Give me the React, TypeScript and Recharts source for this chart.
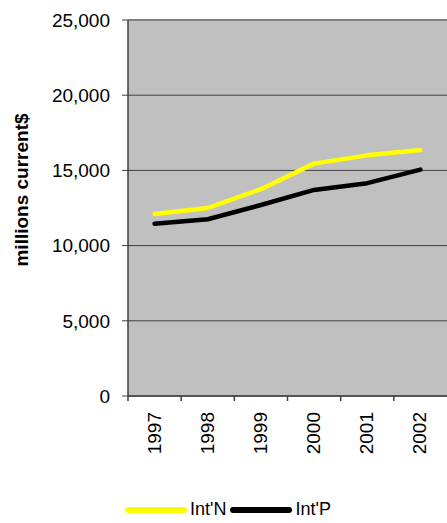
import React from "react";
import {
  LineChart,
  Line,
  XAxis,
  YAxis,
  CartesianGrid,
  Legend,
  ReferenceLine,
} from "recharts";

const years = ["1997", "1998", "1999", "2000", "2001", "2002"];
const intN = [12100, 12500, 13750, 15450, 16000, 16350];
const intP = [11450, 11750, 12700, 13700, 14150, 15050];
const yTicks = [0, 5000, 10000, 15000, 20000, 25000];

const FONT = "'Liberation Sans', Arial, sans-serif";
const AXIS = "#404040";

const data = years.map((year, i) => ({
  year,
  intN: intN[i],
  intP: intP[i],
}));

const series = [
  { key: "intN", name: "Int'N", color: "#ffff00" },
  { key: "intP", name: "Int'P", color: "#000000" },
];

// label rotated upward, tick mark on the left band boundary
const YearTick = (props: any) => {
  const { x, y, payload } = props;
  const half = payload.offset ?? 26.6;
  return (
    <g>
      <line x1={x - half} y1={y} x2={x - half} y2={y + 5} stroke={AXIS} strokeWidth={1.5} />
      <text
        x={x + 6}
        y={y + 16}
        transform={`rotate(-90, ${x + 6}, ${y + 16})`}
        textAnchor="end"
        fontSize={19}
        fontFamily={FONT}
        fill="#000"
      >
        {payload.value}
      </text>
    </g>
  );
};

const YTitle = (props: any) => {
  const { viewBox } = props;
  const cx = viewBox.x + 21;
  const cy = viewBox.y + viewBox.height / 2 - 18;
  return (
    <text
      x={cx}
      y={cy}
      transform={`rotate(-90, ${cx}, ${cy})`}
      textAnchor="middle"
      dominantBaseline="central"
      fontSize={19}
      fontWeight="bold"
      fontFamily={FONT}
      fill="#000"
    >
      millions current$
    </text>
  );
};

const LegendContent = () => (
  <div style={{ display: "flex", alignItems: "center", height: 30, paddingTop: 3, boxSizing: "border-box", fontFamily: FONT, fontSize: 18 }}>
    {series.map((s) => (
      <div key={s.key} style={{ display: "flex", alignItems: "center" }}>
        <svg width={62} height={12}>
          <line x1={3} y1={6} x2={59} y2={6} stroke={s.color} strokeWidth={6} strokeLinecap="round" />
        </svg>
        <span style={{ marginLeft: 3, marginRight: 4 }}>{s.name}</span>
      </div>
    ))}
  </div>
);

export default function App() {
  return (
    <div style={{ position: "absolute", left: 0, top: 0, background: "#fff" }}>
      <LineChart
        width={447}
        height={523}
        data={data}
        margin={{ top: 20, right: 0, left: 0, bottom: 0 }}
      >
        <CartesianGrid fill="#c0c0c0" vertical={false} stroke={AXIS} />
        <XAxis
          dataKey="year"
          scale="band"
          height={97}
          tickLine={false}
          tickSize={0}
          tickMargin={0}
          axisLine={{ stroke: AXIS, strokeWidth: 1.5 }}
          tick={<YearTick />}
          interval={0}
        />
        <YAxis
          width={128}
          domain={[0, 25000]}
          ticks={yTicks}
          interval={0}
          tickSize={6}
          tickMargin={12}
          tickLine={{ stroke: AXIS }}
          axisLine={{ stroke: AXIS, strokeWidth: 1.5 }}
          tickFormatter={(v: number) => v.toLocaleString("en-US")}
          tick={{ fontSize: 19, fontFamily: FONT, fill: "#000" }}
          label={<YTitle />}
        />
        <ReferenceLine y={25000} stroke="#808080" strokeWidth={2} />
        {series.map((s) => (
          <Line
            key={s.key}
            dataKey={s.key}
            name={s.name}
            stroke={s.color}
            strokeWidth={4.5}
            strokeLinecap="round"
            strokeLinejoin="round"
            dot={false}
            activeDot={false}
            isAnimationActive={false}
          />
        ))}
        <Legend
          verticalAlign="bottom"
          align="left"
          height={30}
          content={<LegendContent />}
          wrapperStyle={{ left: 125 }}
        />
      </LineChart>
    </div>
  );
}
